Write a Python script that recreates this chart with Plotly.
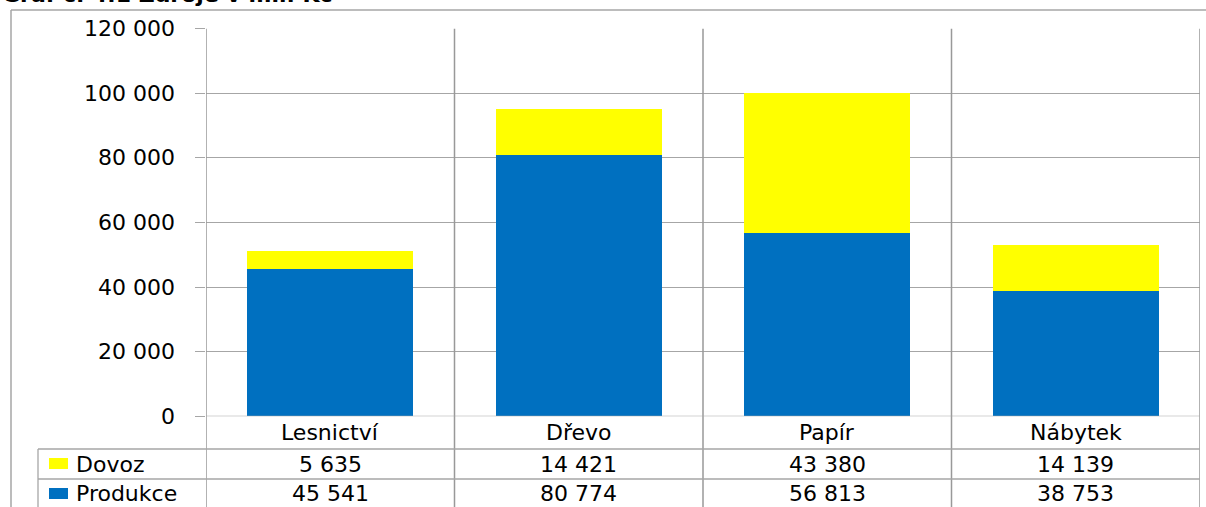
import plotly.graph_objects as go

categories = ["Lesnictví", "Dřevo", "Papír", "Nábytek"]
produkce = [45541, 80774, 56813, 38753]
dovoz = [5635, 14421, 43380, 14139]
series_names = ["Dovoz", "Produkce"]
y_ticks = [0, 20000, 40000, 60000, 80000, 100000, 120000]
title_text = "Graf č. 4.1 Zdroje v mil. Kč"

W, H = 1206, 507
BLUE = "#0070C0"
YELLOW = "#FFFF00"
GRID = "#a6a6a6"
FONT = "DejaVu Sans"

def px(x):
    return x / W

def py(y):
    return (H - y) / H

plot_left, plot_right = 206, 1200
plot_top, plot_bottom = 28.7, 416.3
row1, row2 = 449, 479

fig = go.Figure()
fig.add_trace(go.Bar(x=categories, y=produkce, name="Produkce",
                     marker=dict(color=BLUE, line=dict(width=0))))
fig.add_trace(go.Bar(x=categories, y=dovoz, name="Dovoz",
                     marker=dict(color=YELLOW, line=dict(width=0))))

def fmt(v):
    return f"{v:,}".replace(",", " ")

shapes = []
# outer frame
shapes.append(dict(type="line", xref="paper", yref="paper", x0=px(11), x1=1.0,
                   y0=py(10), y1=py(10), line=dict(color=GRID, width=1.5)))
shapes.append(dict(type="line", xref="paper", yref="paper", x0=px(11), x1=px(11),
                   y0=py(10), y1=0, line=dict(color=GRID, width=1.5)))
# vertical category boundaries (incl. plot edges) through table
for i in range(len(categories) + 1):
    shapes.append(dict(type="line", xref="x", yref="paper", x0=i - 0.5, x1=i - 0.5,
                       y0=py(plot_top), y1=0, line=dict(color="#999999", width=1.5)))
# zero line
shapes.append(dict(type="line", xref="paper", yref="y", x0=px(plot_left), x1=px(plot_right),
                   y0=0, y1=0, line=dict(color=GRID, width=1.3)))
# table rows
for yy in (row1, row2):
    shapes.append(dict(type="line", xref="paper", yref="paper", x0=px(38), x1=px(plot_right),
                       y0=py(yy), y1=py(yy), line=dict(color=GRID, width=1.3)))
shapes.append(dict(type="line", xref="paper", yref="paper", x0=px(38), x1=px(38),
                   y0=py(row1), y1=0, line=dict(color=GRID, width=1.3)))
# legend swatches
shapes.append(dict(type="rect", xref="paper", yref="paper", x0=px(49), x1=px(68),
                   y0=py(469), y1=py(458), fillcolor=YELLOW, line=dict(width=0)))
shapes.append(dict(type="rect", xref="paper", yref="paper", x0=px(49), x1=px(68),
                   y0=py(499), y1=py(488), fillcolor=BLUE, line=dict(width=0)))

annotations = []
tfont = dict(family=FONT, size=22, color="black")
# category labels
for c in categories:
    annotations.append(dict(x=c, y=py(432), xref="x", yref="paper",
                            text=c, showarrow=False, font=tfont, xanchor="center", yanchor="middle"))
# values rows
for c, v in zip(categories, dovoz):
    annotations.append(dict(x=c, y=py(464), xref="x", yref="paper",
                            text=fmt(v), showarrow=False, font=tfont, xanchor="center", yanchor="middle"))
for c, v in zip(categories, produkce):
    annotations.append(dict(x=c, y=py(493), xref="x", yref="paper",
                            text=fmt(v), showarrow=False, font=tfont, xanchor="center", yanchor="middle"))
# legend labels
annotations.append(dict(x=px(74), y=py(464), xref="paper", yref="paper",
                        text=series_names[0], showarrow=False, font=tfont, xanchor="left", yanchor="middle"))
annotations.append(dict(x=px(74), y=py(493), xref="paper", yref="paper",
                        text=series_names[1], showarrow=False, font=tfont, xanchor="left", yanchor="middle"))
# y tick labels
for t in y_ticks:
    annotations.append(dict(x=px(177), y=t, xref="paper", yref="y", text=fmt(t),
                            showarrow=False, font=tfont, xanchor="right", yanchor="middle"))
# title (cut at top of picture, as in the reference)
annotations.append(dict(x=0, y=py(9), xref="paper", yref="paper", text="<b>" + title_text + "</b>",
                        showarrow=False, font=dict(family=FONT, size=22, color="black"),
                        xanchor="left", yanchor="bottom"))

fig.update_layout(
    width=W, height=H, autosize=False,
    margin=dict(l=0, r=0, t=0, b=0),
    paper_bgcolor="white", plot_bgcolor="white",
    barmode="stack", bargap=0.332,
    showlegend=False,
    shapes=shapes, annotations=annotations,
    xaxis=dict(domain=[px(plot_left), px(plot_right)], range=[-0.5, 3.5],
               showticklabels=False, showgrid=False, zeroline=False, showline=False, ticks=""),
    yaxis=dict(domain=[py(plot_bottom), py(plot_top)], range=[0, 120000],
               tickvals=y_ticks, showticklabels=False, ticks="outside", ticklen=10,
               tickcolor=GRID, tickwidth=1.3,
               showgrid=True, gridcolor=GRID, gridwidth=1.3, zeroline=False, showline=False),
)

fig.write_html("out.html", config={"displayModeBar": False},
               post_script="document.body.style.margin='0';document.body.style.overflow='hidden';")
